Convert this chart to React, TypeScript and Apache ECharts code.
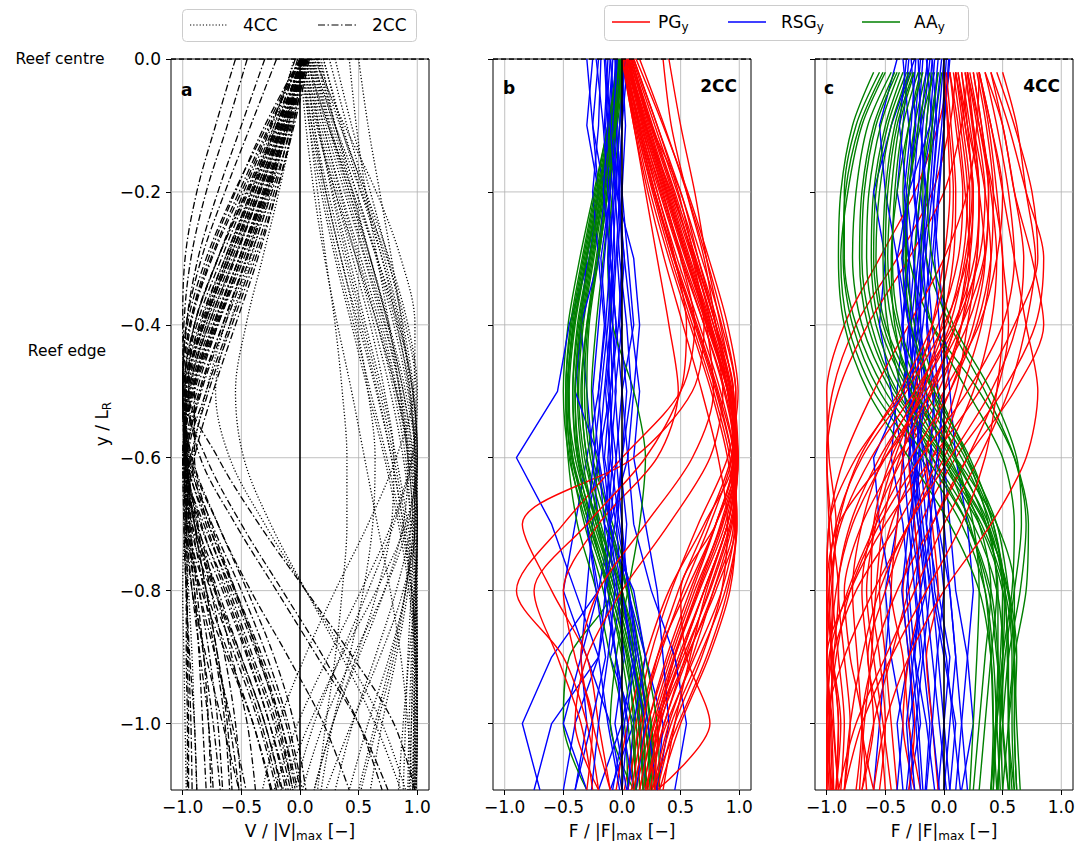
import React, { useEffect, useRef } from "react";
import * as echarts from "echarts";

const FONT = "DejaVu Sans";

// y levels (y / L_R) at which profiles are read
const YL = [0, -0.1, -0.2, -0.3, -0.4, -0.5, -0.6, -0.7, -0.8, -0.9, -1.0, -1.1];
const YC = [-0.02, -0.1, -0.2, -0.3, -0.4, -0.5, -0.6, -0.7, -0.8, -0.9, -1.0, -1.1];

const XTICKS = [-1, -0.5, 0, 0.5, 1];
const YTICKS = [0, -0.2, -0.4, -0.6, -0.8, -1.0];

// ---------- panel a : V/|V|max ----------
const A_2CC: number[][] = [
  [0.02, -0.12, -0.3, -0.5, -0.72, -0.92, -0.98, -0.85, -0.62, -0.42, -0.22, -0.08],
  [0.04, -0.1, -0.26, -0.45, -0.66, -0.86, -0.97, -0.9, -0.7, -0.5, -0.3, -0.15],
  [0.0, -0.15, -0.35, -0.56, -0.78, -0.95, -0.99, -0.82, -0.58, -0.36, -0.16, -0.02],
  [0.06, -0.08, -0.22, -0.4, -0.6, -0.8, -0.95, -0.93, -0.76, -0.55, -0.35, -0.2],
  [0.01, -0.18, -0.4, -0.62, -0.83, -0.97, -0.96, -0.78, -0.55, -0.32, -0.12, 0.0],
  [0.03, -0.13, -0.32, -0.52, -0.74, -0.93, -0.99, -0.88, -0.66, -0.45, -0.26, -0.1],
  [0.05, -0.09, -0.28, -0.48, -0.7, -0.9, -1.0, -0.92, -0.73, -0.52, -0.33, -0.18],
  [-0.02, -0.2, -0.42, -0.64, -0.85, -0.98, -0.95, -0.75, -0.5, -0.28, -0.1, 0.02],
  [0.08, -0.05, -0.2, -0.38, -0.58, -0.78, -0.93, -0.97, -0.84, -0.62, -0.4, -0.24],
  [-0.04, -0.24, -0.48, -0.7, -0.9, -0.99, -0.92, -0.7, -0.45, -0.22, -0.05, 0.05],
  [0.03, -0.16, -0.38, -0.6, -0.82, -0.97, -0.97, -0.84, -0.64, -0.44, -0.26, -0.12],
  [0.05, -0.14, -0.34, -0.56, -0.78, -0.95, -0.98, -0.9, -0.72, -0.5, -0.3, -0.16],
  [0.0, -0.22, -0.46, -0.7, -0.9, -0.99, -0.94, -0.78, -0.56, -0.34, -0.16, -0.04],
  [0.02, -0.19, -0.41, -0.64, -0.86, -0.98, -0.96, -0.8, -0.6, -0.4, -0.2, -0.06],
  [0.07, -0.07, -0.24, -0.43, -0.64, -0.84, -0.96, -0.95, -0.8, -0.6, -0.4, -0.25],
  [0.01, -0.26, -0.52, -0.76, -0.94, -1.0, -0.93, -0.76, -0.55, -0.35, -0.18, -0.06],
  [0.02, -0.14, -0.34, -0.55, -0.76, -0.94, -1.0, -0.99, -0.97, -0.95, -0.93, -0.92],
  [0.0, -0.17, -0.38, -0.6, -0.82, -0.97, -0.98, -0.95, -0.9, -0.86, -0.83, -0.8],
  [0.04, -0.11, -0.29, -0.5, -0.71, -0.91, -0.99, -0.97, -0.92, -0.85, -0.78, -0.74],
  [0.01, -0.16, -0.36, -0.58, -0.8, -0.96, -0.99, -0.92, -0.82, -0.72, -0.64, -0.6],
  [0.03, -0.12, -0.31, -0.52, -0.73, -0.92, -0.99, -0.94, -0.86, -0.77, -0.7, -0.66],
  [0.02, -0.2, -0.44, -0.67, -0.88, -0.99, -0.97, -0.88, -0.76, -0.64, -0.55, -0.5],
  [0.04, -0.12, -0.3, -0.5, -0.7, -0.88, -0.98, -0.96, -0.86, -0.72, -0.58, -0.46],
  [0.02, -0.18, -0.4, -0.62, -0.84, -0.97, -0.99, -0.96, -0.9, -0.82, -0.74, -0.68],
  [0.03, -0.1, -0.27, -0.46, -0.66, -0.85, -0.97, -0.99, -0.97, -0.94, -0.9, -0.88],
  [0.0, -0.28, -0.56, -0.8, -0.96, -1.0, -0.98, -0.94, -0.88, -0.82, -0.78, -0.76],
  [-0.2, -0.42, -0.64, -0.84, -0.97, -1.0, -0.97, -0.9, -0.8, -0.7, -0.6, -0.52],
  [0.06, -0.06, -0.2, -0.36, -0.55, -0.74, -0.9, -0.97, -0.92, -0.8, -0.66, -0.52],
  [-0.55, -0.72, -0.88, -0.98, -1.0, -0.99, -0.98, -0.97, -0.96, -0.96, -0.95, -0.95],
  [-0.45, -0.62, -0.8, -0.93, -0.99, -1.0, -0.99, -0.98, -0.97, -0.97, -0.96, -0.96],
  [-0.3, -0.5, -0.7, -0.87, -0.97, -1.0, -0.98, -0.9, -0.8, -0.7, -0.62, -0.58],
  [0.0, -0.3, -0.55, -0.78, -0.94, -1.0, -0.97, -0.87, -0.72, -0.58, -0.45, -0.38],
  [0.02, -0.2, -0.45, -0.7, -0.9, -0.95, -0.7, -0.35, 0.05, 0.45, 0.8, 0.98],
  [0.03, -0.15, -0.36, -0.6, -0.82, -0.95, -0.85, -0.55, -0.2, 0.15, 0.5, 0.75],
  [0.0, -0.25, -0.5, -0.75, -0.93, -0.98, -0.8, -0.5, -0.15, 0.2, 0.5, 0.7],
  [0.05, -0.1, -0.3, -0.52, -0.74, -0.9, -0.9, -0.7, -0.42, -0.1, 0.2, 0.42],
];

const A_4CC: number[][] = [
  [0.05, 0.15, 0.28, 0.42, 0.56, 0.7, 0.82, 0.92, 0.98, 1.0, 0.99, 0.98],
  [0.1, 0.22, 0.38, 0.55, 0.7, 0.83, 0.93, 0.99, 1.0, 0.99, 0.98, 0.98],
  [0.0, 0.08, 0.18, 0.3, 0.44, 0.58, 0.72, 0.84, 0.93, 0.98, 1.0, 0.99],
  [0.15, 0.3, 0.48, 0.65, 0.8, 0.92, 0.99, 1.0, 0.98, 0.96, 0.95, 0.94],
  [0.08, 0.16, 0.27, 0.4, 0.54, 0.68, 0.8, 0.9, 0.96, 0.99, 1.0, 0.99],
  [0.2, 0.35, 0.52, 0.7, 0.85, 0.96, 1.0, 0.99, 0.97, 0.95, 0.93, 0.92],
  [0.03, 0.1, 0.2, 0.32, 0.46, 0.6, 0.74, 0.86, 0.95, 1.0, 1.0, 0.99],
  [0.12, 0.26, 0.42, 0.58, 0.73, 0.86, 0.95, 1.0, 0.98, 0.93, 0.88, 0.84],
  [0.06, 0.12, 0.22, 0.35, 0.5, 0.65, 0.78, 0.88, 0.95, 0.98, 0.97, 0.96],
  [0.18, 0.3, 0.45, 0.6, 0.75, 0.88, 0.97, 1.0, 0.99, 0.98, 0.97, 0.97],
  [0.04, 0.12, 0.24, 0.38, 0.52, 0.66, 0.78, 0.88, 0.95, 0.99, 1.0, 0.99],
  [0.14, 0.28, 0.44, 0.6, 0.75, 0.88, 0.96, 1.0, 0.99, 0.97, 0.95, 0.93],
  [0.07, 0.18, 0.32, 0.48, 0.63, 0.77, 0.88, 0.95, 0.99, 1.0, 0.98, 0.97],
  [0.2, 0.36, 0.54, 0.7, 0.83, 0.93, 0.98, 0.97, 0.9, 0.78, 0.64, 0.5],
  [0.09, 0.2, 0.34, 0.5, 0.66, 0.8, 0.9, 0.94, 0.9, 0.8, 0.66, 0.52],
  [0.11, 0.25, 0.42, 0.6, 0.76, 0.9, 0.98, 0.98, 0.92, 0.82, 0.7, 0.6],
  [0.3, 0.44, 0.6, 0.75, 0.88, 0.97, 1.0, 0.98, 0.95, 0.92, 0.9, 0.88],
  [0.02, 0.14, 0.3, 0.48, 0.66, 0.82, 0.94, 0.98, 0.88, 0.68, 0.44, 0.22],
  [0.16, 0.34, 0.56, 0.76, 0.92, 1.0, 0.96, 0.8, 0.58, 0.34, 0.12, -0.05],
  [0.0, 0.05, 0.12, 0.21, 0.32, 0.44, 0.55, 0.66, 0.77, 0.86, 0.92, 0.96],
  [0.05, 0.16, 0.3, 0.45, 0.6, 0.72, 0.8, 0.78, 0.66, 0.48, 0.28, 0.12],
  [0.1, 0.24, 0.4, 0.56, 0.72, 0.85, 0.92, 0.88, 0.72, 0.5, 0.28, 0.12],
  [0.0, 0.1, 0.22, 0.35, 0.48, 0.58, 0.64, 0.62, 0.54, 0.42, 0.28, 0.18],
  [0.08, 0.2, 0.35, 0.52, 0.68, 0.82, 0.92, 0.96, 0.9, 0.76, 0.58, 0.42],
  [0.15, 0.3, 0.48, 0.66, 0.82, 0.94, 0.99, 0.92, 0.72, 0.45, 0.2, 0.02],
  [0.02, 0.08, 0.15, 0.22, 0.3, 0.36, 0.4, 0.4, 0.36, 0.3, 0.22, 0.15],
  [0.5, 0.58, 0.68, 0.78, 0.87, 0.94, 0.98, 1.0, 0.99, 0.98, 0.97, 0.96],
  [0.42, 0.48, 0.56, 0.66, 0.76, 0.85, 0.92, 0.97, 0.99, 1.0, 0.99, 0.98],
  [0.25, 0.4, 0.56, 0.72, 0.86, 0.96, 1.0, 0.95, 0.82, 0.64, 0.45, 0.3],
  [0.1, 0.3, 0.52, 0.74, 0.9, 0.99, 0.95, 0.78, 0.52, 0.24, -0.02, -0.22],
  [0.05, 0.24, 0.45, 0.66, 0.84, 0.96, 1.0, 0.9, 0.65, 0.35, 0.08, -0.15],
  [0.12, 0.38, 0.65, 0.86, 0.98, 0.97, 0.82, 0.58, 0.3, 0.04, -0.18, -0.32],
  [0.0, -0.12, -0.28, -0.46, -0.64, -0.8, -0.92, -0.98, -1.0, -0.99, -0.98, -0.97],
  [-0.05, -0.22, -0.42, -0.62, -0.8, -0.94, -1.0, -0.98, -0.95, -0.92, -0.9, -0.88],
  [0.0, -0.1, -0.25, -0.42, -0.6, -0.72, -0.6, -0.3, 0.05, 0.4, 0.7, 0.9],
  [0.02, -0.06, -0.18, -0.32, -0.46, -0.55, -0.48, -0.25, 0.05, 0.36, 0.64, 0.86],
];

// ---------- panel b : 2CC forces ----------
const B_PG: number[][] = [
  [0.05, 0.22, 0.4, 0.58, 0.76, 0.92, 0.95, 0.8, 0.6, 0.4, 0.22, 0.1],
  [0.02, 0.15, 0.32, 0.5, 0.7, 0.88, 0.97, 0.9, 0.7, 0.48, 0.28, 0.15],
  [0.1, 0.3, 0.5, 0.68, 0.85, 0.97, 0.94, 0.75, 0.52, 0.32, 0.16, 0.05],
  [0.0, 0.12, 0.26, 0.42, 0.6, 0.78, 0.92, 0.96, 0.85, 0.62, 0.38, 0.2],
  [0.08, 0.26, 0.45, 0.63, 0.8, 0.94, 0.98, 0.85, 0.62, 0.42, 0.25, 0.12],
  [0.04, 0.18, 0.36, 0.54, 0.73, 0.9, 0.99, 0.93, 0.75, 0.52, 0.3, 0.18],
  [0.12, 0.35, 0.56, 0.74, 0.9, 0.99, 0.9, 0.65, 0.42, 0.24, 0.12, 0.02],
  [0.03, 0.14, 0.3, 0.47, 0.66, 0.84, 0.96, 0.97, 0.8, 0.55, 0.32, 0.22],
  [0.06, 0.2, 0.38, 0.56, 0.74, 0.9, 0.97, 0.88, 0.66, 0.45, 0.3, 0.25],
  [0.4, 0.5, 0.62, 0.72, 0.84, 0.95, 0.99, 0.9, 0.7, 0.5, 0.3, 0.18],
  [0.35, 0.42, 0.55, 0.7, 0.8, 0.9, 0.95, 0.8, 0.55, 0.3, 0.15, 0.05],
  [0.0, 0.1, 0.22, 0.36, 0.52, 0.68, 0.82, 0.9, 0.85, 0.68, 0.45, 0.3],
  [0.05, 0.2, 0.42, 0.62, 0.8, 0.95, 0.95, 0.7, 0.4, 0.2, 0.05, -0.05],
  [0.02, 0.16, 0.34, 0.52, 0.72, 0.9, 0.98, 0.9, 0.72, 0.58, 0.45, 0.35],
  [0.02, 0.2, 0.38, 0.55, 0.7, 0.6, 0.1, -0.85, -0.6, -0.3, -0.2, -0.1],
  [0.05, 0.18, 0.35, 0.5, 0.62, 0.5, 0.0, -0.5, -0.9, -0.5, -0.3, -0.2],
  [0.0, 0.1, 0.2, 0.3, 0.4, 0.48, 0.3, -0.2, -0.5, -0.4, -0.25, -0.3],
  [0.08, 0.25, 0.5, 0.65, 0.8, 0.93, 0.98, 0.8, 0.5, 0.55, 0.75, 0.3],
  [0.03, 0.14, 0.28, 0.44, 0.62, 0.8, 0.94, 0.98, 0.9, 0.72, 0.48, 0.25],
  [0.1, 0.3, 0.48, 0.62, 0.76, 0.86, 0.75, 0.4, 0.0, -0.3, -0.4, -0.2],
  [0.06, 0.24, 0.43, 0.61, 0.78, 0.93, 0.97, 0.84, 0.64, 0.44, 0.27, 0.15],
  [0.01, 0.13, 0.28, 0.45, 0.64, 0.82, 0.95, 0.95, 0.78, 0.56, 0.36, 0.24],
  [0.09, 0.28, 0.47, 0.65, 0.82, 0.95, 0.96, 0.8, 0.58, 0.38, 0.22, 0.1],
  [0.04, 0.19, 0.37, 0.55, 0.74, 0.91, 0.99, 0.92, 0.74, 0.54, 0.36, 0.2],
  [0.07, 0.23, 0.41, 0.6, 0.78, 0.93, 0.98, 0.86, 0.65, 0.45, 0.32, 0.28],
  [0.0, 0.11, 0.24, 0.4, 0.58, 0.76, 0.9, 0.97, 0.92, 0.74, 0.5, 0.32],
  [0.15, 0.36, 0.55, 0.72, 0.87, 0.97, 0.93, 0.72, 0.48, 0.3, 0.18, 0.08],
  [0.03, 0.17, 0.33, 0.51, 0.7, 0.87, 0.97, 0.94, 0.78, 0.6, 0.4, 0.26],
  [0.05, 0.21, 0.39, 0.57, 0.75, 0.91, 0.98, 0.9, 0.7, 0.5, 0.33, 0.2],
  [0.02, 0.12, 0.27, 0.44, 0.63, 0.81, 0.94, 0.98, 0.88, 0.66, 0.42, 0.28],
  [0.0, 0.15, 0.3, 0.45, 0.55, 0.5, 0.2, -0.3, -0.75, -0.55, -0.35, -0.25],
  [0.08, 0.25, 0.44, 0.6, 0.72, 0.78, 0.6, 0.2, -0.2, -0.35, -0.25, -0.1],
];

const B_RSG: number[][] = [
  [-0.05, -0.08, -0.1, -0.12, -0.1, -0.15, -0.2, -0.25, -0.3, -0.35, -0.3, -0.4],
  [-0.2, -0.25, -0.2, -0.3, -0.35, -0.3, -0.25, -0.2, -0.1, -0.2, -0.4, -0.5],
  [0.0, -0.02, -0.05, -0.08, -0.1, -0.12, -0.05, 0.0, 0.05, 0.1, 0.15, 0.2],
  [-0.1, -0.05, 0.0, 0.05, 0.1, 0.0, -0.05, -0.1, 0.05, 0.2, 0.35, 0.3],
  [-0.25, -0.3, -0.2, -0.28, -0.45, -0.55, -0.9, -0.6, -0.4, -0.2, -0.6, -0.75],
  [-0.05, -0.1, -0.15, -0.2, -0.15, -0.2, -0.3, -0.4, -0.5, -0.3, -0.1, 0.0],
  [0.02, 0.0, -0.03, 0.02, 0.08, 0.15, 0.1, 0.2, 0.3, 0.35, 0.4, 0.3],
  [-0.15, -0.12, -0.08, -0.1, -0.05, -0.1, -0.15, -0.05, 0.0, -0.1, 0.1, -0.1],
  [-0.08, -0.1, -0.05, 0.1, 0.15, 0.1, 0.05, -0.1, -0.2, -0.6, -0.85, -0.7],
  [-0.3, -0.25, -0.15, -0.1, -0.05, 0.0, 0.05, 0.1, 0.25, 0.45, 0.55, 0.45],
  [-0.02, -0.05, -0.02, -0.05, -0.08, -0.05, -0.1, -0.15, -0.12, -0.05, 0.0, 0.1],
  [-0.12, -0.15, -0.1, -0.15, -0.2, -0.25, -0.2, -0.3, -0.2, -0.35, -0.5, -0.3],
  [0.05, 0.0, -0.02, 0.0, -0.03, -0.1, -0.2, -0.15, 0.1, 0.2, 0.1, 0.05],
  [-0.18, -0.2, -0.25, -0.2, -0.35, -0.4, -0.2, -0.1, 0.0, 0.1, 0.0, -0.2],
  [-0.06, -0.04, -0.08, -0.06, -0.1, -0.08, -0.12, -0.1, -0.15, -0.05, 0.05, 0.0],
  [-0.1, -0.14, -0.1, -0.18, -0.14, -0.2, -0.16, -0.1, -0.04, 0.02, -0.06, 0.04],
  [0.0, 0.03, 0.0, -0.04, 0.0, -0.06, -0.02, 0.04, 0.0, 0.08, 0.2, 0.12],
  [-0.22, -0.16, -0.12, -0.08, -0.12, -0.18, -0.24, -0.3, -0.22, -0.14, -0.26, -0.4],
  [-0.04, -0.08, -0.04, 0.02, -0.02, 0.04, 0.0, -0.06, -0.14, -0.2, -0.12, -0.02],
  [-0.14, -0.1, -0.06, -0.12, -0.08, -0.14, -0.1, -0.02, 0.06, 0.14, 0.22, 0.3],
  [-0.08, -0.12, -0.16, -0.1, -0.14, -0.1, -0.08, -0.12, -0.06, -0.12, -0.2, -0.26],
  [0.03, -0.02, -0.06, -0.02, 0.04, 0.08, 0.0, -0.04, 0.06, 0.12, 0.02, -0.08],
];

const B_AA: number[][] = [
  [0.0, -0.08, -0.18, -0.28, -0.38, -0.42, -0.38, -0.2, -0.02, 0.1, 0.18, 0.2],
  [-0.02, -0.1, -0.2, -0.3, -0.4, -0.45, -0.42, -0.28, -0.1, 0.05, 0.15, 0.22],
  [0.0, -0.06, -0.14, -0.22, -0.3, -0.34, -0.3, -0.15, 0.0, 0.12, 0.22, 0.28],
  [-0.04, -0.12, -0.24, -0.36, -0.46, -0.5, -0.45, -0.3, -0.12, 0.02, 0.12, 0.15],
  [0.0, -0.05, -0.1, -0.16, -0.22, -0.26, -0.22, -0.1, 0.05, 0.16, 0.25, 0.3],
  [-0.01, -0.09, -0.19, -0.3, -0.41, -0.47, -0.44, -0.32, -0.16, -0.05, 0.05, 0.1],
  [0.02, -0.04, -0.12, -0.2, -0.28, -0.3, -0.25, -0.08, 0.08, 0.2, 0.3, 0.32],
  [-0.03, -0.11, -0.22, -0.33, -0.43, -0.48, -0.46, -0.38, -0.22, -0.1, 0.02, 0.05],
  [0.0, -0.07, -0.16, -0.25, -0.34, -0.38, -0.34, -0.22, -0.06, 0.08, 0.16, 0.18],
  [0.0, -0.05, -0.12, -0.2, -0.3, -0.35, -0.3, -0.2, -0.1, -0.45, -0.5, -0.3],
  [0.02, -0.02, -0.08, -0.12, -0.08, 0.1, 0.2, 0.15, 0.05, -0.05, -0.1, 0.1],
  [-0.02, -0.09, -0.2, -0.31, -0.41, -0.46, -0.42, -0.26, -0.08, 0.06, 0.14, 0.18],
  [0.0, -0.06, -0.15, -0.24, -0.33, -0.37, -0.32, -0.18, -0.02, 0.1, 0.2, 0.24],
  [-0.01, -0.1, -0.21, -0.32, -0.42, -0.46, -0.4, -0.24, -0.06, 0.08, 0.18, 0.2],
  [0.0, -0.07, -0.17, -0.27, -0.36, -0.4, -0.36, -0.22, -0.04, 0.1, 0.2, 0.26],
  [-0.03, -0.12, -0.23, -0.34, -0.44, -0.48, -0.43, -0.28, -0.1, 0.04, 0.1, 0.12],
  [0.01, -0.05, -0.13, -0.21, -0.29, -0.32, -0.27, -0.12, 0.04, 0.16, 0.24, 0.28],
  [-0.02, -0.08, -0.18, -0.28, -0.37, -0.42, -0.38, -0.26, -0.12, 0.0, 0.08, 0.12],
  [0.0, -0.06, -0.16, -0.26, -0.35, -0.4, -0.37, -0.2, 0.0, 0.14, 0.22, 0.25],
];

// ---------- panel c : 4CC forces ----------
const C_PG: number[][] = [
  [0.1, 0.05, -0.1, -0.4, -0.75, -0.95, -1.0, -0.98, -0.95, -0.97, -1.0, -0.98],
  [0.2, 0.28, 0.35, 0.3, 0.1, -0.2, -0.55, -0.8, -0.9, -0.85, -0.8, -0.85],
  [0.05, -0.05, -0.25, -0.55, -0.85, -1.0, -0.98, -0.92, -0.96, -1.0, -0.97, -0.95],
  [0.3, 0.4, 0.5, 0.45, 0.3, 0.0, -0.35, -0.6, -0.7, -0.65, -0.6, -0.7],
  [0.15, 0.22, 0.3, 0.35, 0.25, 0.05, -0.2, -0.45, -0.55, -0.5, -0.45, -0.4],
  [0.4, 0.55, 0.7, 0.85, 0.78, 0.5, 0.1, -0.2, -0.35, -0.3, -0.25, -0.3],
  [0.35, 0.5, 0.6, 0.75, 0.85, 0.6, 0.2, -0.1, -0.3, -0.45, -0.6, -0.7],
  [0.2, 0.15, 0.0, -0.3, -0.65, -0.9, -1.0, -0.96, -0.9, -0.94, -0.98, -1.0],
  [0.1, 0.18, 0.25, 0.22, 0.1, -0.1, -0.3, -0.25, -0.2, -0.3, -0.35, -0.25],
  [0.25, 0.32, 0.4, 0.45, 0.4, 0.25, 0.0, -0.3, -0.6, -0.85, -1.0, -1.0],
  [0.05, 0.12, 0.18, 0.22, 0.15, 0.0, -0.15, -0.1, -0.05, -0.15, -0.1, -0.05],
  [0.2, 0.25, 0.3, 0.28, 0.2, 0.1, -0.1, -0.4, -0.75, -0.95, -1.0, -0.95],
  [0.45, 0.6, 0.75, 0.8, 0.6, 0.3, -0.1, -0.5, -0.8, -1.0, -0.95, -0.9],
  [0.3, 0.28, 0.2, 0.0, -0.3, -0.6, -0.85, -0.98, -1.0, -0.95, -0.9, -0.92],
  [0.3, 0.38, 0.45, 0.5, 0.55, 0.45, 0.2, -0.1, -0.4, -0.6, -0.7, -0.6],
  [0.12, 0.2, 0.3, 0.28, 0.15, -0.05, -0.4, -0.7, -0.85, -0.8, -0.7, -0.75],
  [0.0, 0.03, 0.05, 0.0, -0.1, -0.25, -0.35, -0.4, -0.45, -0.35, -0.3, -0.2],
  [0.22, 0.3, 0.38, 0.35, 0.2, -0.1, -0.5, -0.9, -1.0, -0.95, -0.88, -0.92],
  [0.5, 0.62, 0.7, 0.78, 0.7, 0.55, 0.3, 0.0, -0.25, -0.5, -0.75, -0.9],
  [0.18, 0.25, 0.35, 0.4, 0.32, 0.15, -0.05, -0.3, -0.5, -0.65, -0.55, -0.5],
  [0.05, 0.1, 0.16, 0.12, -0.05, -0.35, -0.75, -0.98, -1.0, -1.0, -0.98, -0.97],
  [0.12, 0.18, 0.25, 0.2, 0.0, -0.32, -0.7, -0.92, -0.98, -0.95, -0.9, -0.92],
  [0.25, 0.32, 0.38, 0.34, 0.15, -0.15, -0.5, -0.78, -0.92, -0.96, -0.94, -0.9],
  [0.0, 0.04, 0.08, 0.04, -0.1, -0.38, -0.72, -0.9, -0.95, -0.9, -0.85, -0.88],
  [0.18, 0.24, 0.3, 0.26, 0.08, -0.25, -0.62, -0.88, -0.98, -1.0, -0.96, -0.94],
  [0.08, 0.14, 0.2, 0.16, 0.02, -0.22, -0.52, -0.7, -0.78, -0.74, -0.7, -0.66],
  [0.35, 0.45, 0.55, 0.6, 0.5, 0.2, -0.2, -0.55, -0.8, -0.92, -0.98, -1.0],
  [0.15, 0.2, 0.24, 0.18, 0.05, -0.18, -0.45, -0.6, -0.62, -0.55, -0.5, -0.55],
  [0.28, 0.36, 0.42, 0.4, 0.28, 0.05, -0.28, -0.58, -0.82, -0.98, -1.0, -0.96],
  [0.02, 0.06, 0.1, 0.08, -0.02, -0.2, -0.42, -0.58, -0.66, -0.6, -0.52, -0.45],
  [0.4, 0.5, 0.6, 0.68, 0.62, 0.4, 0.05, -0.3, -0.55, -0.7, -0.8, -0.85],
  [0.1, 0.16, 0.22, 0.2, 0.1, -0.12, -0.38, -0.52, -0.58, -0.62, -0.68, -0.72],
  [0.2, 0.3, 0.42, 0.5, 0.5, 0.45, 0.35, 0.15, -0.15, -0.45, -0.7, -0.85],
  [0.3, 0.4, 0.5, 0.6, 0.7, 0.8, 0.7, 0.4, 0.0, -0.3, -0.5, -0.6],
];

const C_RSG: number[][] = [
  [-0.1, -0.15, -0.2, -0.25, -0.3, -0.25, -0.2, -0.15, -0.1, -0.05, 0.0, 0.05],
  [-0.3, -0.35, -0.4, -0.3, -0.35, -0.4, -0.45, -0.35, -0.3, -0.25, -0.2, -0.3],
  [0.05, 0.0, -0.05, -0.1, -0.15, -0.1, -0.05, 0.0, 0.05, 0.1, 0.15, 0.1],
  [-0.2, -0.25, -0.3, -0.35, -0.25, -0.2, -0.3, -0.25, -0.2, -0.15, -0.1, -0.15],
  [-0.15, -0.1, -0.2, -0.15, -0.1, -0.05, 0.0, 0.05, 0.1, 0.2, 0.25, 0.15],
  [-0.25, -0.45, -0.6, -0.5, -0.55, -0.45, -0.35, -0.4, -0.5, -0.45, -0.35, -0.4],
  [0.0, -0.05, -0.1, -0.05, 0.0, 0.05, 0.1, 0.2, 0.25, 0.2, 0.15, 0.2],
  [-0.35, -0.3, -0.25, -0.2, -0.25, -0.3, -0.25, -0.2, -0.15, -0.3, -0.4, -0.35],
  [-0.05, -0.1, -0.15, -0.2, -0.2, -0.15, -0.1, -0.15, -0.05, 0.05, 0.0, -0.05],
  [-0.4, -0.55, -0.5, -0.4, -0.3, -0.35, -0.6, -0.55, -0.45, -0.5, -0.55, -0.6],
  [-0.12, -0.18, -0.22, -0.3, -0.28, -0.22, -0.18, -0.1, -0.2, -0.25, -0.15, -0.08],
  [0.02, -0.02, -0.08, -0.12, -0.18, -0.25, -0.3, -0.22, -0.1, 0.0, 0.1, 0.05],
  [-0.22, -0.2, -0.15, -0.18, -0.22, -0.28, -0.35, -0.3, -0.25, -0.2, -0.3, -0.25],
  [-0.08, -0.12, -0.3, -0.4, -0.35, -0.3, -0.15, -0.05, 0.05, 0.1, 0.05, 0.0],
  [-0.18, -0.22, -0.26, -0.2, -0.24, -0.3, -0.26, -0.2, -0.24, -0.18, -0.12, -0.16],
  [-0.28, -0.24, -0.3, -0.36, -0.3, -0.26, -0.2, -0.26, -0.32, -0.28, -0.22, -0.18],
  [-0.02, -0.08, -0.12, -0.18, -0.14, -0.08, -0.12, -0.06, 0.0, -0.06, -0.1, -0.04],
  [-0.14, -0.2, -0.16, -0.22, -0.28, -0.34, -0.28, -0.22, -0.16, -0.1, -0.04, 0.02],
  [-0.32, -0.38, -0.32, -0.26, -0.2, -0.16, -0.22, -0.3, -0.36, -0.3, -0.26, -0.32],
  [-0.1, -0.06, -0.1, -0.16, -0.22, -0.18, -0.24, -0.18, -0.12, -0.18, -0.24, -0.2],
  [0.04, 0.0, -0.04, -0.08, -0.04, 0.0, -0.06, -0.12, -0.08, 0.02, 0.08, 0.14],
  [-0.24, -0.28, -0.34, -0.3, -0.36, -0.3, -0.24, -0.28, -0.2, -0.26, -0.32, -0.28],
];

const C_AA: number[][] = [
  [-0.55, -0.75, -0.85, -0.85, -0.75, -0.5, -0.1, 0.25, 0.45, 0.5, 0.5, 0.55],
  [-0.45, -0.65, -0.75, -0.78, -0.7, -0.45, -0.05, 0.3, 0.5, 0.55, 0.55, 0.6],
  [-0.35, -0.5, -0.6, -0.62, -0.55, -0.3, 0.1, 0.45, 0.6, 0.6, 0.55, 0.5],
  [-0.25, -0.38, -0.45, -0.48, -0.4, -0.2, 0.15, 0.4, 0.52, 0.5, 0.45, 0.42],
  [-0.15, -0.25, -0.32, -0.35, -0.3, -0.1, 0.2, 0.45, 0.55, 0.6, 0.62, 0.65],
  [-0.5, -0.7, -0.82, -0.88, -0.82, -0.6, -0.2, 0.15, 0.35, 0.42, 0.45, 0.48],
  [-0.05, -0.12, -0.2, -0.25, -0.22, -0.05, 0.2, 0.38, 0.45, 0.4, 0.35, 0.3],
  [-0.3, -0.45, -0.55, -0.58, -0.5, -0.25, 0.05, 0.3, 0.4, 0.35, 0.3, 0.25],
  [-0.1, -0.15, -0.18, -0.15, 0.05, 0.35, 0.6, 0.7, 0.65, 0.55, 0.5, 0.45],
  [-0.2, -0.3, -0.35, -0.3, -0.1, 0.3, 0.6, 0.72, 0.7, 0.6, 0.55, 0.58],
  [-0.4, -0.58, -0.68, -0.7, -0.62, -0.4, 0.0, 0.35, 0.55, 0.62, 0.6, 0.62],
  [-0.08, -0.2, -0.3, -0.32, -0.25, -0.1, 0.1, 0.25, 0.3, 0.28, 0.25, 0.22],
  [-0.6, -0.78, -0.88, -0.9, -0.85, -0.65, -0.3, 0.05, 0.3, 0.4, 0.42, 0.4],
  [-0.02, -0.08, -0.15, -0.2, -0.1, 0.2, 0.5, 0.6, 0.58, 0.5, 0.45, 0.4],
  [-0.28, -0.42, -0.5, -0.52, -0.48, -0.35, -0.1, 0.2, 0.38, 0.45, 0.5, 0.55],
  [-0.18, -0.3, -0.4, -0.45, -0.42, -0.28, 0.0, 0.22, 0.35, 0.4, 0.42, 0.45],
  [-0.42, -0.6, -0.7, -0.72, -0.65, -0.42, -0.02, 0.32, 0.52, 0.58, 0.58, 0.6],
  [-0.32, -0.48, -0.58, -0.6, -0.52, -0.28, 0.08, 0.38, 0.5, 0.5, 0.48, 0.46],
  [-0.22, -0.35, -0.42, -0.44, -0.38, -0.16, 0.18, 0.42, 0.52, 0.54, 0.55, 0.56],
  [-0.52, -0.72, -0.84, -0.86, -0.78, -0.55, -0.15, 0.2, 0.4, 0.46, 0.48, 0.5],
  [-0.12, -0.22, -0.3, -0.33, -0.28, -0.08, 0.22, 0.42, 0.5, 0.48, 0.44, 0.4],
  [-0.38, -0.54, -0.64, -0.66, -0.58, -0.36, 0.02, 0.36, 0.54, 0.6, 0.6, 0.62],
  [-0.05, -0.1, -0.14, -0.1, 0.08, 0.4, 0.62, 0.66, 0.6, 0.52, 0.48, 0.46],
  [-0.26, -0.4, -0.48, -0.5, -0.44, -0.24, 0.1, 0.36, 0.46, 0.46, 0.44, 0.42],
];

const RED = "#ff0000";
const BLUE = "#0000ff";
const GREEN = "#008000";
const DASHDOT = [7, 2.5, 1.5, 2.5];
const DOTTED = [1.2, 2];

const GRID_LEFTS = [171, 493, 815];
const GRID_TOP = 59;
const GRID_W = 258;
const GRID_H = 731;

function curves(rows: number[][], ys: number[], g: number, color: string, width: number, dash: any, smooth: number) {
  return rows.map((r) => ({
    type: "line",
    xAxisIndex: g,
    yAxisIndex: g,
    data: r.map((x, i) => [x, ys[i]]),
    symbol: "none",
    showSymbol: false,
    smooth,
    silent: true,
    z: 2,
    lineStyle: { color, width, type: dash },
  }));
}

function interleave(...groups: any[][]) {
  const out: any[] = [];
  const n = Math.max(...groups.map((g) => g.length));
  for (let i = 0; i < n; i++) for (const g of groups) if (g[i]) out.push(g[i]);
  return out;
}

function frame(g: number) {
  const s: any[] = [];
  const base = { type: "line", xAxisIndex: g, yAxisIndex: g, symbol: "none", silent: true };
  XTICKS.filter((v) => v !== 0).forEach((v) =>
    s.push({ ...base, z: 1, data: [[v, -1.1], [v, 0]], lineStyle: { color: "#b0b0b0", width: 0.8 } })
  );
  YTICKS.filter((v) => v !== 0).forEach((v) =>
    s.push({ ...base, z: 1, data: [[-1.1, v], [1.1, v]], lineStyle: { color: "#b0b0b0", width: 0.8 } })
  );
  s.push({ ...base, z: 5, data: [[0, -1.1], [0, 0]], lineStyle: { color: "#000", width: 1.6 } });
  s.push({ ...base, z: 5, data: [[-1.1, 0], [1.1, 0]], lineStyle: { color: "#000", width: 1.5, type: [5, 3] } });
  return s;
}

const fmt = (v: number) => (v < 0 ? "\u2212" : "") + Math.abs(v).toFixed(1);

const SUBRICH = {
  a: { fontSize: 17, fontFamily: FONT, color: "#000", lineHeight: 22 },
  s: { fontSize: 12, fontFamily: FONT, color: "#000", verticalAlign: "bottom", lineHeight: 22 },
};

function txt(x: number, y: number, text: string, opts: any = {}) {
  return {
    type: "text",
    x,
    y,
    z: 100,
    silent: true,
    rotation: opts.rotation || 0,
    style: {
      text,
      fill: "#000",
      fontSize: opts.fontSize || 17,
      fontFamily: FONT,
      fontWeight: opts.bold ? "bold" : "normal",
      align: opts.align || "left",
      textAlign: opts.align || "left",
      verticalAlign: "middle",
      textVerticalAlign: "middle",
      rich: opts.rich,
    },
  };
}

export default function App() {
  const ref = useRef<HTMLDivElement>(null);
  useEffect(() => {
    if (!ref.current) return;
    const chart = echarts.init(ref.current, undefined, { renderer: "svg" });

    const grids = GRID_LEFTS.map((l) => ({
      left: l,
      top: GRID_TOP,
      width: GRID_W,
      height: GRID_H,
      containLabel: false,
      outerBoundsMode: "none",
      show: true,
      borderColor: "#000",
      borderWidth: 1,
      backgroundColor: "transparent",
    }));

    const xAxes = [0, 1, 2].map((g) => ({
      gridIndex: g,
      type: "value",
      min: -1.1,
      max: 1.1,
      axisLine: { show: false, onZero: false },
      axisTick: { show: true, customValues: XTICKS, length: 5, lineStyle: { color: "#000", width: 1 } },
      axisLabel: { customValues: XTICKS, formatter: fmt, fontSize: 17, fontFamily: FONT, color: "#000", margin: 8 },
      splitLine: { show: false },
    }));

    const yAxes = [0, 1, 2].map((g) => ({
      gridIndex: g,
      type: "value",
      min: -1.1,
      max: 0,
      axisLine: { show: false, onZero: false },
      axisTick: { show: true, customValues: YTICKS, length: 5, lineStyle: { color: "#000", width: 1 } },
      axisLabel: {
        show: g === 0,
        customValues: YTICKS,
        formatter: fmt,
        fontSize: 17,
        fontFamily: FONT,
        color: "#000",
        margin: 10,
      },
      splitLine: { show: false },
    }));

    const series: any[] = [
      ...frame(0),
      ...frame(1),
      ...frame(2),
      ...curves(A_4CC, YL, 0, "#000", 1.3, DOTTED, 0.35),
      ...curves(A_2CC, YL, 0, "#000", 1.3, DASHDOT, 0.35),
      ...interleave(
        curves(B_PG, YL, 1, RED, 1.4, "solid", 0.3),
        curves(B_RSG, YL, 1, BLUE, 1.4, "solid", 0),
        curves(B_AA, YL, 1, GREEN, 1.4, "solid", 0.3)
      ),
      ...interleave(
        curves(C_PG, YC, 2, RED, 1.4, "solid", 0.3),
        curves(C_RSG, YL, 2, BLUE, 1.4, "solid", 0),
        curves(C_AA, YC, 2, GREEN, 1.4, "solid", 0.3)
      ),
    ];

    const graphic: any[] = [
      // legend a
      { type: "rect", z: 90, shape: { x: 182.5, y: 9.5, width: 234, height: 32, r: 4 }, style: { fill: "rgba(255,255,255,0.8)", stroke: "#cccccc", lineWidth: 1 } },
      { type: "line", z: 91, shape: { x1: 190, y1: 25, x2: 228, y2: 25 }, style: { stroke: "#000", lineWidth: 1.2, lineDash: DOTTED } },
      txt(243, 25, "4CC"),
      { type: "line", z: 91, shape: { x1: 318, y1: 25, x2: 356, y2: 25 }, style: { stroke: "#000", lineWidth: 1.2, lineDash: DASHDOT } },
      txt(372, 25, "2CC"),
      // legend b/c
      { type: "rect", z: 90, shape: { x: 604.5, y: 5.5, width: 364, height: 35, r: 4 }, style: { fill: "rgba(255,255,255,0.8)", stroke: "#cccccc", lineWidth: 1 } },
      { type: "line", z: 91, shape: { x1: 612, y1: 22, x2: 650, y2: 22 }, style: { stroke: RED, lineWidth: 1.3 } },
      txt(658, 22, "{a|PG}{s|y}", { rich: SUBRICH }),
      { type: "line", z: 91, shape: { x1: 728, y1: 22, x2: 766, y2: 22 }, style: { stroke: BLUE, lineWidth: 1.3 } },
      txt(781, 22, "{a|RSG}{s|y}", { rich: SUBRICH }),
      { type: "line", z: 91, shape: { x1: 862, y1: 22, x2: 900, y2: 22 }, style: { stroke: GREEN, lineWidth: 1.3 } },
      txt(914, 22, "{a|AA}{s|y}", { rich: SUBRICH }),
      // side annotations
      txt(60, 59, "Reef centre", { fontSize: 15.5, align: "center" }),
      txt(67, 351, "Reef edge", { fontSize: 15.5, align: "center" }),
      txt(102, 424, "{a|y / L}{s|R}", { rich: SUBRICH, align: "center", rotation: Math.PI / 2 }),
      // panel labels
      txt(181, 90, "a", { bold: true }),
      txt(503, 88, "b", { bold: true }),
      txt(737, 86, "2CC", { bold: true, align: "right" }),
      txt(824, 88, "c", { bold: true }),
      txt(1060, 86, "4CC", { bold: true, align: "right" }),
      // axis names
      txt(300, 831, "{a|V / |V|}{s|max}{a| [\u2212]}", { rich: SUBRICH, align: "center" }),
      txt(622, 831, "{a|F / |F|}{s|max}{a| [\u2212]}", { rich: SUBRICH, align: "center" }),
      txt(944, 831, "{a|F / |F|}{s|max}{a| [\u2212]}", { rich: SUBRICH, align: "center" }),
    ];

    chart.setOption({
      animation: false,
      backgroundColor: "#fff",
      grid: grids,
      xAxis: xAxes,
      yAxis: yAxes,
      series,
      graphic,
    });
    return () => chart.dispose();
  }, []);
  return <div ref={ref} style={{ position: "fixed", left: 0, top: 0, width: 1088, height: 846 }} />;
}
